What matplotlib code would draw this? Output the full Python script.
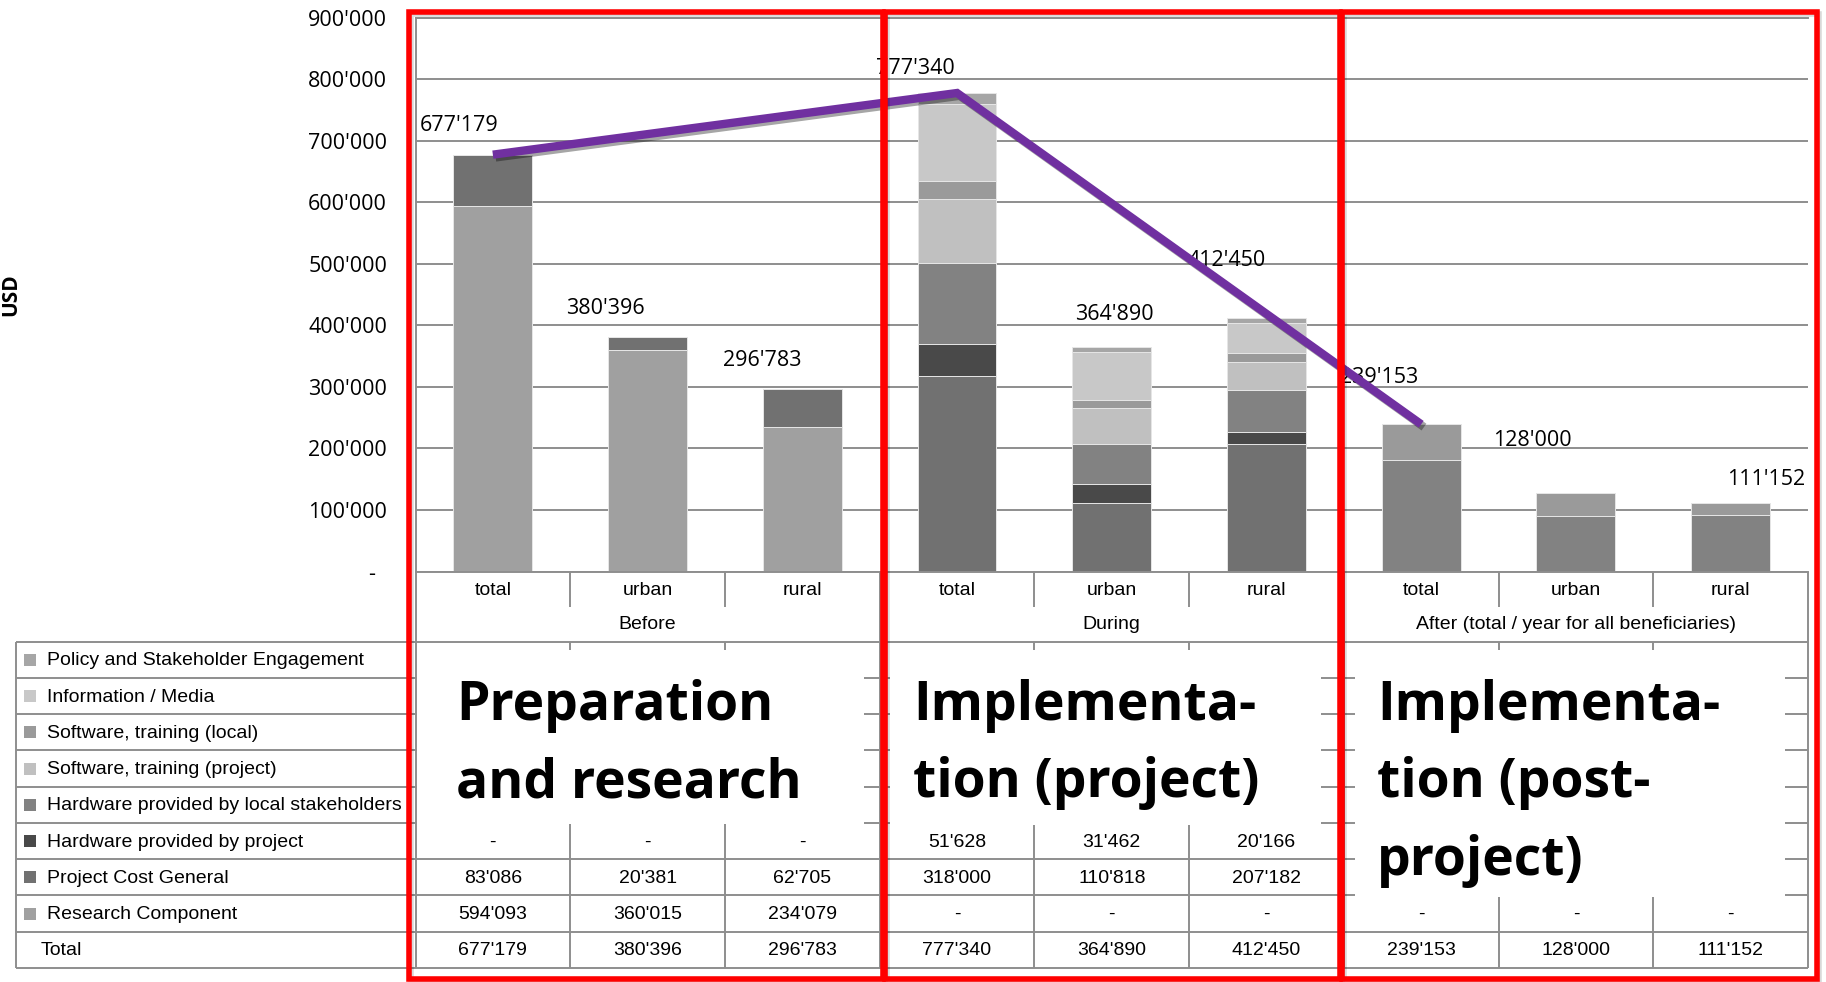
import matplotlib
matplotlib.use("Agg")
import matplotlib.pyplot as plt
import matplotlib.patheffects as pe
from matplotlib import font_manager
from matplotlib.patches import Rectangle
from matplotlib.ticker import FuncFormatter
from matplotlib.transforms import blended_transform_factory

# ---------------- data (USD) ----------------
categories = ["total", "urban", "rural"] * 3
groups = ["Before", "During", "After (total / year for all beneficiaries)"]

policy = [0, 0, 0, 17312, 8810, 8502, 0, 0, 0]
info_media = [0, 0, 0, 126000, 77500, 48500, 0, 0, 0]
sw_local = [0, 0, 0, 28500, 13500, 15000, 58653, 38500, 20152]
sw_project = [0, 0, 0, 104400, 58000, 46400, 0, 0, 0]
hw_local = [0, 0, 0, 131500, 64800, 66700, 180500, 89500, 91000]
hw_project = [0, 0, 0, 51628, 31462, 20166, 0, 0, 0]
project_cost = [83086, 20381, 62705, 318000, 110818, 207182, 0, 0, 0]
research = [594093, 360015, 234079, 0, 0, 0, 0, 0, 0]
totals = [677179, 380396, 296783, 777340, 364890, 412450, 239153, 128000, 111152]

# rows of the data table, top to bottom
rows = [
    ("Policy and Stakeholder Engagement", policy, "#a6a6a6"),
    ("Information / Media", info_media, "#c8c8c8"),
    ("Software, training (local)", sw_local, "#9a9a9a"),
    ("Software, training (project)", sw_project, "#c0c0c0"),
    ("Hardware provided by local stakeholders", hw_local, "#828282"),
    ("Hardware provided by project", hw_project, "#494949"),
    ("Project Cost General", project_cost, "#717171"),
    ("Research Component", research, "#a0a0a0"),
]

phase_titles = [
    ["Preparation", "and research"],
    ["Implementa-", "tion (project)"],
    ["Implementa-", "tion (post-", "project)"],
]
# number of table rows (from the top) hidden behind each phase title
hidden_rows = [5, 5, 7]

# where the total labels sit relative to the bar top (category units, pixels)
label_dx = [-0.22, -0.27, -0.26, -0.27, 0.02, -0.26, -0.27, -0.28, 0.23]
label_dy = [29, 29, 28, 25, 32, 57, 47, 52, 24]


def fmt(v):
    return "-" if v == 0 else f"{v:,}".replace(",", "'")


names = {f.name for f in font_manager.fontManager.ttflist}
if "Liberation Sans Narrow" in names:
    narrow, nsize = "Liberation Sans Narrow", 16
else:
    narrow, nsize = "Liberation Sans", 14
num_font = "Open Sans"
grid_c = "#8e8e8e"

W, H = 1826, 982
L, R, TOP, BASE = 415.5, 1808, 17.5, 571.5

fig = plt.figure(figsize=(W / 100, H / 100), dpi=100)
ax = fig.add_axes([L / W, 1 - BASE / H, (R - L) / W, (BASE - TOP) / H])

# ---------------- stacked columns ----------------
x = list(range(len(categories)))
bottom = [0] * len(categories)
for name, vals, col in reversed(rows):
    ax.bar(x, vals, width=0.51, bottom=bottom, color=col,
           edgecolor="#e6e6e6", linewidth=0.7, zorder=2)
    bottom = [b + v for b, v in zip(bottom, vals)]

# line over the three "total" columns
tot_idx = [0, 3, 6]
ax.plot(tot_idx, [totals[i] for i in tot_idx], color="#7030a0", lw=6,
        solid_capstyle="butt", solid_joinstyle="miter", zorder=5,
        path_effects=[pe.SimpleLineShadow(offset=(2, -2), alpha=0.35),
                      pe.Normal()])

for i, t in enumerate(totals):
    ax.annotate(fmt(t), (i + label_dx[i], t), xytext=(0, label_dy[i] * 0.72),
                textcoords="offset points", ha="center", va="center",
                fontsize=15.5, family=num_font, zorder=4)

ax.set_xlim(-0.5, 8.5)
ax.set_ylim(0, 900000)
ax.set_yticks(range(0, 900001, 100000))
ax.yaxis.set_major_formatter(FuncFormatter(lambda v, p: "-  " if v == 0 else fmt(int(v))))
ax.tick_params(axis="y", length=0, pad=20.5, labelsize=15.5)
for lab in ax.get_yticklabels():
    lab.set_family(num_font)
ax.set_xticks([])
ax.yaxis.grid(True, color=grid_c, lw=1.4)
ax.set_axisbelow(True)
for s in ["left", "bottom", "top"]:
    ax.spines[s].set_color(grid_c)
    ax.spines[s].set_linewidth(1.4)
ax.spines["right"].set_visible(False)
ax.set_ylabel("USD", fontsize=15, fontweight="bold", family=num_font)
ax.yaxis.set_label_coords(-0.283, 0.5)

# ---------------- category axis + data table (pixel layout) ----------------
tab = fig.add_axes([0, 0, 1, 1], zorder=3)
tab.set_xlim(0, W)
tab.set_ylim(H, 0)
tab.axis("off")
tab.patch.set_visible(False)
bt = blended_transform_factory(ax.transData, tab.transData)

CAT_BOT, GRP_BOT, TAB_BOT = 606.7, 641.7, 968
row_h = (TAB_BOT - GRP_BOT) / (len(rows) + 1)
lkw = dict(color=grid_c, lw=1.4, solid_capstyle="butt")

for i in range(len(categories) - 1):
    if i in (2, 5):
        tab.plot([i + 0.5, i + 0.5], [BASE, TAB_BOT], transform=bt, **lkw)
    else:
        tab.plot([i + 0.5, i + 0.5], [BASE, CAT_BOT], transform=bt, **lkw)
        tab.plot([i + 0.5, i + 0.5], [GRP_BOT, TAB_BOT], transform=bt, **lkw)
tab.plot([8.5, 8.5], [BASE, TAB_BOT], transform=bt, **lkw)
tab.plot([-0.5, -0.5], [BASE, TAB_BOT], transform=bt, **lkw)
tab.plot([16, 16], [GRP_BOT, TAB_BOT], **lkw)
for k in range(len(rows) + 2):
    y = GRP_BOT + k * row_h
    tab.plot([16, R], [y, y], **lkw)

for i, c in enumerate(categories):
    tab.text(i, (BASE + CAT_BOT) / 2 + 1, c, transform=bt, ha="center",
             va="center", fontsize=nsize, family=narrow)
for g, name in enumerate(groups):
    tab.text(3 * g + 1, (CAT_BOT + GRP_BOT) / 2, name, transform=bt,
             ha="center", va="center", fontsize=nsize, family=narrow)

table_rows = rows + [("Total", totals, None)]
for k, (name, vals, col) in enumerate(table_rows):
    yc = GRP_BOT + (k + 0.5) * row_h
    if col is not None:
        tab.add_patch(Rectangle((24, yc - 6), 12, 12, color=col, lw=0))
        tab.text(47, yc + 1, name, ha="left", va="center", fontsize=nsize,
                 family=narrow)
    else:
        tab.text(41, yc + 1, name, ha="left", va="center", fontsize=nsize,
                 family=narrow)
    for i, v in enumerate(vals):
        if k < hidden_rows[i // 3]:
            continue
        tab.text(i, yc + 1, fmt(v), transform=bt, ha="center", va="center",
                 fontsize=nsize, family=narrow)

# phase boxes: white cover with the phase name
covers = [(417, 864, 650, 824), (890, 1321, 650, 825), (1355, 1785, 650, 897)]
text_x = [456, 913, 1377]
baselines = [720, 797.5, 875]
for (x0, x1, y0, y1), tx, lines in zip(covers, text_x, phase_titles):
    tab.add_patch(Rectangle((x0, y0), x1 - x0, y1 - y0, facecolor="white",
                            edgecolor="none", zorder=4))
    for line, yb in zip(lines, baselines):
        tab.text(tx, yb, line, ha="left", va="baseline", fontsize=38.5,
                 fontweight="bold", family="Open Sans", zorder=5)

# red frames around the three phases, with a faint drop shadow
frames = [(408.5, 882.5), (884.5, 1339.5), (1342, 1816.5)]
for x0, x1 in frames:
    tab.add_patch(Rectangle((x0 + 2, 13.5), x1 - x0, 979 - 11.5, fill=False,
                            edgecolor="black", alpha=0.15, lw=4, zorder=5.5))
    tab.add_patch(Rectangle((x0, 11.5), x1 - x0, 979 - 11.5, fill=False,
                            edgecolor="#ff0000", lw=4, zorder=6))

fig.savefig("out.png", dpi=100, facecolor="white")
